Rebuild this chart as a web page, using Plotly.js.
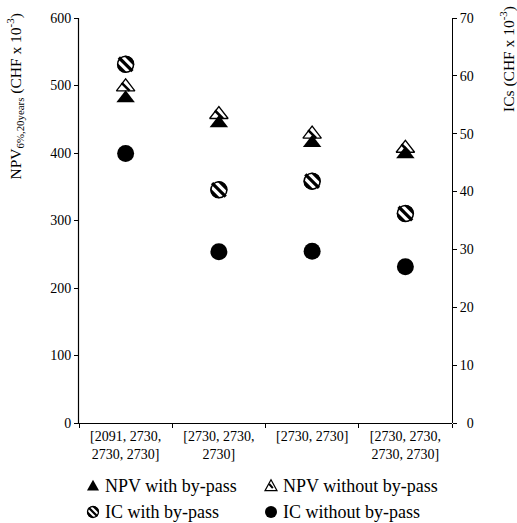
<!DOCTYPE html>
<html><head><meta charset="utf-8">
<script src="https://cdn.plot.ly/plotly-3.0.1.min.js"></script>
<style>html,body{margin:0;padding:0;background:#fff;}#chart{width:517px;height:523px;}</style>
</head><body><div id="chart"></div>
<script>
// ---- data ----
const categories = ["[2091, 2730,<br>2730, 2730]", "[2730, 2730,<br>2730]", "[2730, 2730]", "[2730, 2730,<br>2730, 2730]"];
const npvWithBypass = [481, 444, 415, 398];
const npvWithoutBypass = [498, 457, 428, 407];
const icWithBypass = [62.0, 40.3, 41.8, 36.2];
const icWithoutBypass = [46.6, 29.6, 29.7, 27.0];
const seriesNames = ["NPV with by-pass", "NPV without by-pass", "IC with by-pass", "IC without by-pass"];
const npvTicks = [0, 100, 200, 300, 400, 500, 600];
const icTicks = [0, 10, 20, 30, 40, 50, 60, 70];
const leftTitle = "NPV<sub>6%,20years</sub> (CHF x 10<sup>-3</sup>)";
const rightTitle = "ICs (CHF x 10<sup>-3</sup>)";

// ---- layout constants (pixels) ----
const W = 517, H = 523;
const M = {l: 79, r: 65, t: 18, b: 100};
const PL = M.l, PR = W - M.r, PT = M.t, PB = H - M.b;
const px2x = p => (p - PL) / (PR - PL);
const py2y = p => (PB - p) / (PB - PT);
const FONT = "Liberation Serif, Times New Roman, serif";

function layers(kind, x, y, xa, ya, s) {
  const base = {type: 'scatter', mode: 'markers', x: x, y: y, xaxis: xa, yaxis: ya,
    showlegend: false, hoverinfo: 'skip', cliponaxis: false};
  const m = o => Object.assign({}, base, {marker: o});
  if (kind === 'triFilled') return [m({symbol: 'triangle-up', size: s, color: '#000', line: {width: 0}})];
  if (kind === 'triHatched') return [
    m({symbol: 'triangle-up', size: s, color: '#fff', line: {color: '#000', width: 1.3}}),
    m({symbol: 'line-nw', size: s * 0.5, color: '#000', line: {color: '#000', width: s * 0.16}})
  ];
  if (kind === 'circFilled') return [m({symbol: 'circle', size: s, color: '#000', line: {width: 0}})];
  if (kind === 'circHatched') return [
    m({symbol: 'circle', size: s, color: '#000', line: {width: 0}}),
    m({symbol: 'line-nw', size: s * 0.85, color: '#fff', line: {color: '#fff', width: s * 0.56}}),
    m({symbol: 'line-nw', size: s * 0.8, color: '#000', line: {color: '#000', width: s * 0.19}}),
    m({symbol: 'circle-open', size: s - 1, color: '#000', line: {color: '#000', width: 1.5}})
  ];
  return [];
}

// legend symbols as pixel-sized shapes anchored in paper coordinates
function legendShapes(kind, cx, cy, r) {
  const base = {xref: 'paper', yref: 'paper', xsizemode: 'pixel', ysizemode: 'pixel',
    xanchor: px2x(cx), yanchor: py2y(cy), layer: 'above'};
  const sh = o => Object.assign({}, base, o);
  const tri = `M ${-r},${-r * 0.85} L ${r},${-r * 0.85} L 0,${r * 0.95} Z`;
  const d = r * 0.707;
  if (kind === 'triFilled') return [sh({type: 'path', path: tri, fillcolor: '#000', line: {width: 0}})];
  if (kind === 'triHatched') return [
    sh({type: 'path', path: tri, fillcolor: '#fff', line: {color: '#000', width: 1.2}}),
    sh({type: 'line', x0: -r * 0.3, y0: r * 0.25, x1: r * 0.3, y1: -r * 0.45, line: {color: '#000', width: 2}})
  ];
  if (kind === 'circFilled') return [sh({type: 'circle', x0: -r, x1: r, y0: -r, y1: r, fillcolor: '#000', line: {width: 0}})];
  if (kind === 'circHatched') return [
    sh({type: 'circle', x0: -r, x1: r, y0: -r, y1: r, fillcolor: '#000', line: {width: 0}}),
    sh({type: 'line', x0: -d, y0: d, x1: d, y1: -d, line: {color: '#fff', width: r * 1.1}}),
    sh({type: 'line', x0: -d, y0: d, x1: d, y1: -d, line: {color: '#000', width: r * 0.38}}),
    sh({type: 'circle', x0: -r + 0.5, x1: r - 0.5, y0: -r + 0.5, y1: r - 0.5, fillcolor: 'rgba(0,0,0,0)', line: {color: '#000', width: 1.3}})
  ];
  return [];
}

const kinds = ['triFilled', 'triHatched', 'circHatched', 'circFilled'];
let traces = [];
// NPV on the left axis (x, y); ICs on the right axis (x2, y2)
traces = traces.concat(layers('triHatched', categories, npvWithoutBypass, 'x', 'y', 16));
traces = traces.concat(layers('triFilled', categories, npvWithBypass, 'x', 'y', 16));
traces = traces.concat(layers('circFilled', categories, icWithoutBypass, 'x2', 'y2', 17));
traces = traces.concat(layers('circHatched', categories, icWithBypass, 'x2', 'y2', 17));

// custom legend: 2 columns x 2 rows below the plot
const legColMarker = [93, 271], legColText = [103, 281], legRow = [485.5, 512];
const annotations = [];
let shapes = [];
seriesNames.forEach((name, i) => {
  const col = i % 2, row = Math.floor(i / 2);
  shapes = shapes.concat(legendShapes(kinds[i], legColMarker[col], legRow[row], 6));
  annotations.push({xref: 'paper', yref: 'paper', x: px2x(legColText[col]), y: py2y(legRow[row]),
    xanchor: 'left', yanchor: 'middle', text: name, showarrow: false,
    font: {family: FONT, size: 18, color: '#000'}});
});
annotations.push({xref: 'paper', yref: 'paper', x: px2x(15.5), y: py2y(97), textangle: -90,
  xanchor: 'center', yanchor: 'middle', text: leftTitle, showarrow: false,
  font: {family: FONT, size: 15.5, color: '#000'}});
annotations.push({xref: 'paper', yref: 'paper', x: px2x(508), y: py2y(59), textangle: -90,
  xanchor: 'center', yanchor: 'middle', text: rightTitle, showarrow: false,
  font: {family: FONT, size: 15.5, color: '#000'}});

// left value-axis line (drawn explicitly as well)
shapes.push({type: 'line', xref: 'paper', yref: 'paper', x0: px2x(PL - 0.5), x1: px2x(PL - 0.5), y0: 0, y1: 1,
  line: {color: '#000', width: 1.2}, layer: 'above'});

const axisCommon = {showline: true, linecolor: '#000', linewidth: 1, ticks: 'outside', ticklen: 4,
  tickcolor: '#000', tickwidth: 1, showgrid: false, zeroline: false,
  tickfont: {family: FONT, size: 14, color: '#000'}};
const catAxis = {type: 'category', categoryorder: 'array', categoryarray: categories,
  range: [-0.5, categories.length - 0.5], domain: [0, 1]};

const layout = {
  width: W, height: H, margin: M, paper_bgcolor: '#fff', plot_bgcolor: 'rgba(0,0,0,0)',
  showlegend: false, font: {family: FONT, color: '#000'},
  xaxis: Object.assign({}, axisCommon, catAxis, {tickson: 'boundaries', anchor: 'y'}),
  yaxis: Object.assign({}, axisCommon, {range: [0, 600], tickvals: npvTicks, ticksuffix: '\u2007\u2008',
    anchor: 'x', domain: [0, 1]}),
  xaxis2: Object.assign({}, catAxis, {visible: false, anchor: 'y2', showgrid: false, zeroline: false}),
  yaxis2: Object.assign({}, axisCommon, {range: [0, 70], tickvals: icTicks, mirror: true,
    ticktext: icTicks.map(v => (v < 10 ? '\u2007' : '') + v), side: 'right', anchor: 'x2', domain: [0, 1]}),
  annotations: annotations,
  shapes: shapes
};

Plotly.newPlot('chart', traces, layout, {displayModeBar: false, staticPlot: true});
</script></body></html>
